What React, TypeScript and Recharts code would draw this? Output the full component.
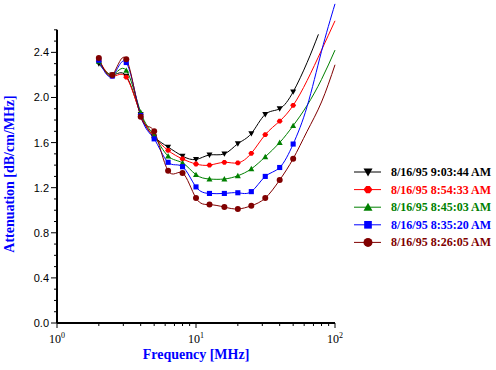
import React from 'react';
import { LineChart, Line, XAxis, YAxis, ReferenceLine, Legend } from 'recharts';

// third-octave frequencies (MHz); 76 is only used by the last trace's end point
const freqs = [2, 2.5, 3.15, 4, 5, 6.3, 8, 10, 12.5, 16, 20, 25, 31.5, 40, 50, 63, 76, 80, 100];

const att0903 = [2.30, 2.20, 2.19, 1.85, 1.65, 1.56, 1.48, 1.45, 1.49, 1.50, 1.59, 1.68, 1.85, 1.90, 2.05, 2.31, 2.56, null, null];
const att0854 = [2.33, 2.19, 2.18, 1.85, 1.65, 1.53, 1.455, 1.41, 1.40, 1.425, 1.42, 1.505, 1.67, 1.79, 1.93, 2.15, null, 2.42, 2.68];
const att0845 = [2.32, 2.20, 2.24, 1.87, 1.66, 1.48, 1.42, 1.315, 1.277, 1.277, 1.306, 1.367, 1.474, 1.60, 1.75, 1.93, null, 2.16, 2.42];
const att0835 = [2.33, 2.19, 2.31, 1.84, 1.633, 1.425, 1.386, 1.207, 1.149, 1.149, 1.155, 1.165, 1.30, 1.379, 1.587, 1.92, null, 2.41, 2.83];
const att0826 = [2.35, 2.20, 2.34, 1.83, 1.70, 1.35, 1.33, 1.108, 1.05, 1.028, 1.011, 1.04, 1.108, 1.268, 1.457, 1.70, null, 1.96, 2.29];

const yTicks = Array.from({ length: 27 }, (_, i) => Math.round(i) / 10);
const xTicks = [1, 2, 3, 4, 5, 6, 7, 8, 9, 10, 20, 30, 40, 50, 60, 70, 80, 90, 100];

const series = [
  { key: 's0903', name: '8/16/95 9:03:44 AM', color: '#000000', shape: 'down', values: att0903 },
  { key: 's0854', name: '8/16/95 8:54:33 AM', color: '#ff0000', shape: 'diamond', values: att0854 },
  { key: 's0845', name: '8/16/95 8:45:03 AM', color: '#008000', shape: 'up', values: att0845 },
  { key: 's0835', name: '8/16/95 8:35:20 AM', color: '#0000ff', shape: 'square', values: att0835 },
  { key: 's0826', name: '8/16/95 8:26:05 AM', color: '#800000', shape: 'circle', values: att0826 },
];

const data = freqs.map((f, i) => {
  const row: any = { f };
  series.forEach((s) => {
    row[s.key] = s.values[i];
  });
  return row;
});

const W = 496;
const H = 370;
const margin = { top: 0.5, right: 161, left: 7, bottom: 17 };
const Y_W = 50;
const X_H = 30;
const AXIS_X = margin.left + Y_W;
const AXIS_Y = H - margin.bottom - X_H;

const SERIF = "'Liberation Serif', 'Times New Roman', serif";
const SANS = "'Liberation Sans', Arial, sans-serif";

function Marker({ shape, cx, cy, size, color }: any) {
  const r = size / 2;
  if (shape === 'down')
    return <polygon points={`${cx - r},${cy - r * 0.8} ${cx + r},${cy - r * 0.8} ${cx},${cy + r}`} fill={color} />;
  if (shape === 'up')
    return <polygon points={`${cx - r},${cy + r * 0.8} ${cx + r},${cy + r * 0.8} ${cx},${cy - r}`} fill={color} />;
  if (shape === 'diamond')
    return (
      <polygon
        points={`${cx - r},${cy} ${cx - r * 0.4},${cy - r * 0.8} ${cx + r * 0.4},${cy - r * 0.8} ${cx + r},${cy} ${cx + r * 0.4},${cy + r * 0.8} ${cx - r * 0.4},${cy + r * 0.8}`}
        fill={color}
      />
    );
  if (shape === 'square') return <rect x={cx - r * 0.85} y={cy - r * 0.85} width={r * 1.7} height={r * 1.7} fill={color} />;
  return <circle cx={cx} cy={cy} r={r} fill={color} />;
}

const YTick = (props: any) => {
  const { y, payload } = props;
  const v = payload.value;
  const major = Math.abs(v / 0.4 - Math.round(v / 0.4)) < 1e-6;
  return (
    <g>
      <line x1={AXIS_X - (major ? 6 : 3)} x2={AXIS_X} y1={y} y2={y} stroke="#000" />
      {major && (
        <text x={AXIS_X - 8} y={y + 4} textAnchor="end" fontFamily={SANS} fontSize={11} fill="#000">
          {v.toFixed(1)}
        </text>
      )}
    </g>
  );
};

const XTick = (props: any) => {
  const { x, payload } = props;
  const e = Math.log10(payload.value);
  const major = Math.abs(e - Math.round(e)) < 1e-6;
  return (
    <g>
      <line x1={x} x2={x} y1={AXIS_Y} y2={AXIS_Y + (major ? 5 : 3)} stroke="#000" />
      {major && (
        <text x={x} y={AXIS_Y + 20} textAnchor="middle" fontFamily={SERIF} fontSize={12} fill="#000">
          <tspan>10</tspan>
          <tspan dy={-5} fontSize={8}>{Math.round(e)}</tspan>
        </text>
      )}
    </g>
  );
};

const LegendBox = () => (
  <svg width={146} height={92}>
    {series.map((s, i) => {
      const cy = 10 + i * 17.6;
      return (
        <g key={s.key}>
          <line x1={4} x2={31} y1={cy} y2={cy} stroke={s.color} />
          <Marker shape={s.shape} cx={18} cy={cy} size={9} color={s.color} />
          <text x={41} y={cy + 4} fontFamily={SERIF} fontWeight="bold" fontSize={12} fill={s.color}>
            {s.name}
          </text>
        </g>
      );
    })}
  </svg>
);

export default function App() {
  return (
    <div style={{ position: 'absolute', left: 0, top: 0, width: W, height: H, background: '#fff' }}>
      <LineChart width={W} height={H} data={data} margin={margin}>
        <XAxis
          dataKey="f"
          type="number"
          scale="log"
          domain={[1, 100]}
          ticks={xTicks}
          interval={0}
          height={X_H}
          axisLine={{ stroke: '#000', strokeWidth: 2 }}
          tickLine={false}
          tick={<XTick />}
          label={() => (
            <text x={196} y={359} textAnchor="middle" fontFamily={SERIF} fontWeight="bold" fontSize={14} fill="#0000ff">
              Frequency [MHz]
            </text>
          )}
        />
        <YAxis
          type="number"
          domain={[0, 2.86]}
          ticks={yTicks}
          interval={0}
          width={Y_W}
          axisLine={false}
          tickLine={false}
          tick={<YTick />}
          label={() => (
            <text
              x={14}
              y={174}
              transform="rotate(-90 14 174)"
              textAnchor="middle"
              fontFamily={SERIF}
              fontWeight="bold"
              fontSize={14}
              fill="#0000ff"
            >
              Attenuation [dB/cm/MHz]
            </text>
          )}
        />
        <ReferenceLine
          segment={[
            { x: 1, y: 0 },
            { x: 1, y: 2.6 },
          ]}
          stroke="#000"
          strokeWidth={2}
        />
        <Legend
          layout="vertical"
          align="center"
          verticalAlign="middle"
          content={<LegendBox />}
          wrapperStyle={{ position: 'absolute', left: 350, top: 162, width: 146, height: 92 }}
        />
        {series.map((s) => (
          <Line
            key={s.key}
            dataKey={s.key}
            name={s.name}
            type="natural"
            stroke={s.color}
            strokeWidth={1}
            connectNulls
            isAnimationActive={false}
            activeDot={false}
            dot={(p: any) =>
              p.cy == null || p.payload.f > 50 ? (
                <g key={`d-${s.key}-${p.index}`} />
              ) : (
                <g key={`d-${s.key}-${p.index}`}>
                  <Marker shape={s.shape} cx={p.cx} cy={p.cy} size={6} color={s.color} />
                </g>
              )
            }
          />
        ))}
      </LineChart>
    </div>
  );
}
